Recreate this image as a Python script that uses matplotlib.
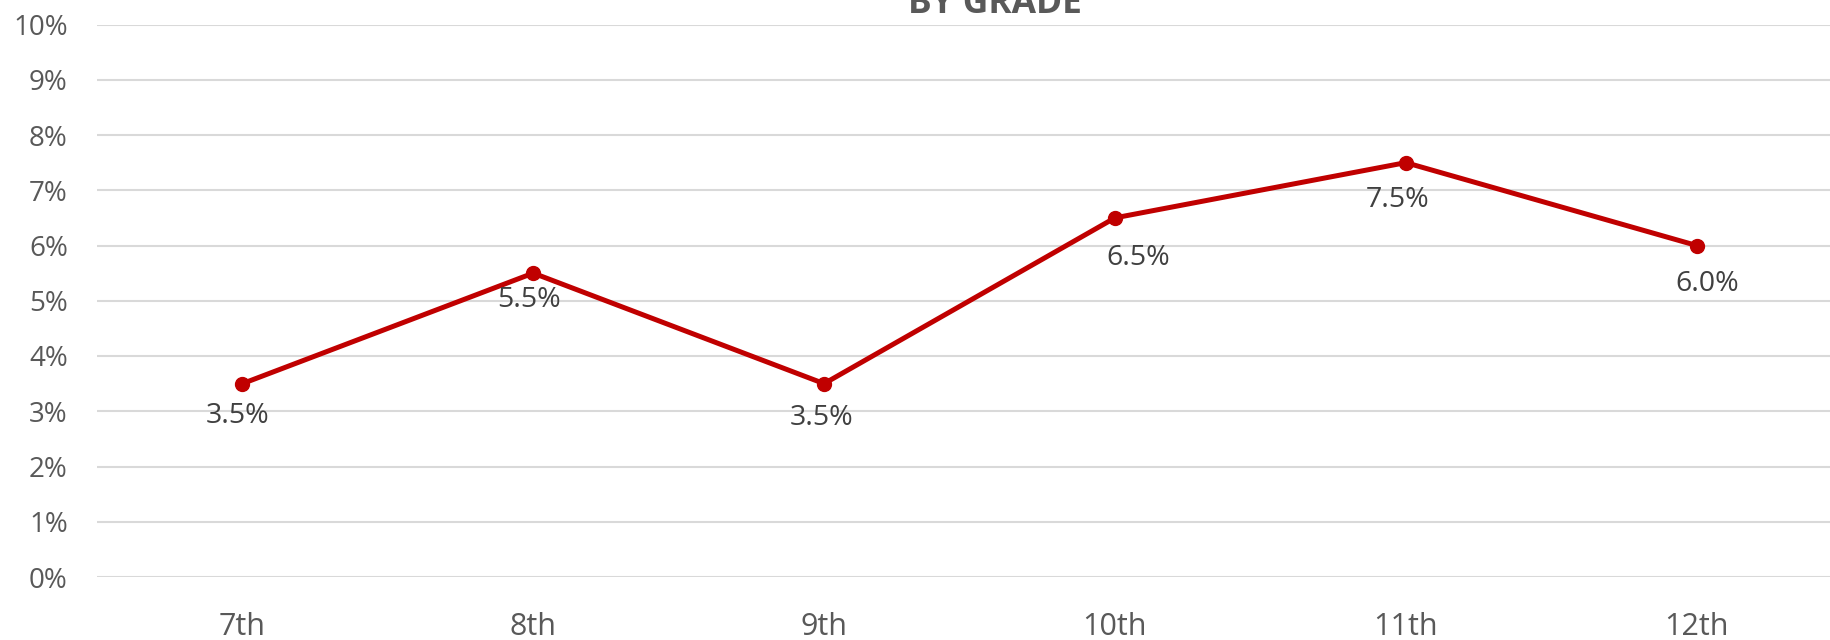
import matplotlib.pyplot as plt
from matplotlib.ticker import FuncFormatter

grades = ["7th", "8th", "9th", "10th", "11th", "12th"]
rates = [3.5, 5.5, 3.5, 6.5, 7.5, 6.0]
y_ticks = list(range(0, 11))

# décalage des étiquettes (points), placées comme dans l'original
label_dx = [-3.4, -3.4, -1.7, 16.8, -5.9, 7.6]
label_dy = [-23.5, -19.4, -24.4, -28.6, -26.9, -27.7]

plt.rcParams['font.family'] = ['Open Sans', 'DejaVu Sans']

fig = plt.figure(figsize=(18.31, 6.40), dpi=100)
# la zone de tracé déborde à droite, comme dans l'original
ax = fig.add_axes([97 / 1831, 1 - 577 / 640, (1842 - 97) / 1831, (577 - 24.5) / 640])

x = list(range(len(grades)))
ax.plot(x, rates, color="#C00000", linewidth=3.6, marker="o", markersize=10,
        solid_capstyle="round", zorder=3)

# etiquettes sous chaque point
for xi, v, dx, dy in zip(x, rates, label_dx, label_dy):
    ax.annotate(f"{v:.1f}%", (xi, v), xytext=(dx, dy), textcoords="offset points",
                ha="center", va="center", fontsize=20.5, color="#404040")

ax.set_ylim(0, 10)
ax.set_xlim(-0.5, 5.5)
ax.set_yticks(y_ticks)
ax.yaxis.set_major_formatter(FuncFormatter(lambda v, p: f"{v:.0f}%"))
ax.set_xticks(x)
ax.set_xticklabels(grades)
ax.grid(axis="y", color="#D9D9D9", linewidth=1.5)
ax.set_axisbelow(True)
for s in ax.spines.values():
    s.set_visible(False)
ax.tick_params(axis="both", length=0, colors="#595959")
ax.tick_params(axis="y", labelsize=20, pad=21)
ax.tick_params(axis="x", labelsize=22, pad=25)

fig.text(995 / 1831, 1 - 13 / 640, "BY GRADE", ha="center", va="baseline",
         fontsize=25.5, fontweight="bold", color="#595959")

plt.savefig("out.png", dpi=100)
plt.close()
